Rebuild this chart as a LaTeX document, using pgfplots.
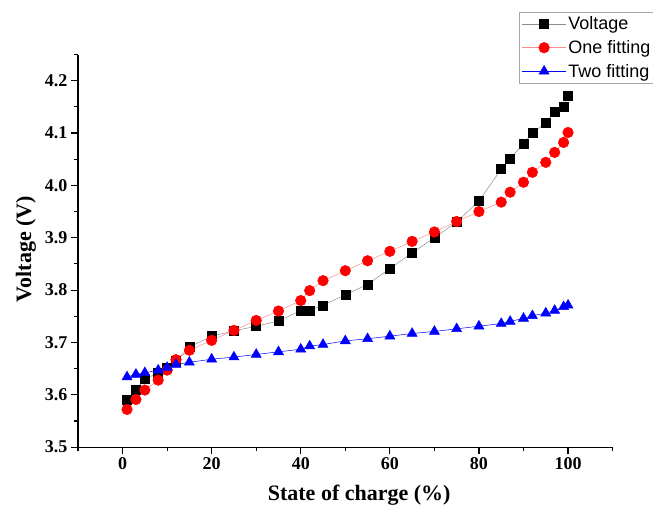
\documentclass[border=0pt]{standalone}
\usepackage{fontspec}
\setmainfont{Liberation Serif}
\newfontfamily\legfont{Liberation Sans}
\usepackage{pgfplots}
\pgfplotsset{compat=1.18}
\begin{document}
\begin{tikzpicture}
\begin{axis}[
    name=ax,
    scale only axis,
    width=534.4bp,
    height=392.5bp,
    xmin=-10, xmax=110,
    ymin=3.5, ymax=4.25,
    axis lines*=left,
    axis line style={line width=1.2bp, black},
    xtick={0,20,40,60,80,100},
    minor xtick={-10,10,30,50,70,90,110},
    ytick={3.5,3.6,3.7,3.8,3.9,4.0,4.1,4.2},
    minor ytick={3.55,3.65,3.75,3.85,3.95,4.05,4.15,4.25},
    yticklabel style={/pgf/number format/.cd, fixed, fixed zerofill, precision=1},
    tick align=outside,
    major tick length=7bp,
    minor tick length=4bp,
    tick style={line width=1.1bp, black},
    /pgf/number format/assume math mode=true,
    tick label style={font=\bfseries\fontsize{18bp}{20bp}\selectfont},
    xlabel={State of charge (\%)},
    ylabel={Voltage (V)},
    label style={font=\bfseries\fontsize{22bp}{24bp}\selectfont},
    x label style={at={(axis description cs:0.526,0)}, anchor=base, yshift=-53bp},
    y label style={at={(axis description cs:-0.0973,0.504)}, anchor=center},
    legend style={at={(rel axis cs:0.825,1.108)}, anchor=north west,
        draw=gray!70, line width=0.6bp,
        font=\legfont\fontsize{18bp}{20bp}\selectfont,
        row sep=5bp, inner sep=2.5bp},
    legend cell align=left,
    legend image code/.code={
        \draw[#1, mark repeat=2, mark phase=2] plot coordinates {(0bp,0bp) (22bp,0bp) (44bp,0bp)};
    },
]
\addplot[color=black!45, line width=0.5bp, mark=square*,
    mark options={black, fill=black, solid}, mark size=4.5bp] coordinates {
(1,3.590)(3,3.610)(5,3.630)(8,3.642)(10,3.651)(12,3.665)(15,3.691)(20,3.712)
(25,3.722)(30,3.731)(35,3.741)(40,3.761)(42,3.761)(45,3.771)(50,3.791)(55,3.811)
(60,3.841)(65,3.871)(70,3.900)(75,3.930)(80,3.970)(85,4.031)(87,4.051)(90,4.080)
(92,4.100)(95,4.120)(97,4.141)(99,4.150)(100,4.171)};
\addlegendentry{Voltage}
\addplot[color=red!45, line width=0.5bp, mark=*,
    mark options={red, fill=red, solid}, mark size=5.3bp] coordinates {
(1,3.572)(3,3.591)(5,3.609)(8,3.628)(10,3.647)(12,3.667)(15,3.685)(20,3.704)
(25,3.723)(30,3.742)(35,3.760)(40,3.780)(42,3.799)(45,3.818)(50,3.837)(55,3.856)
(60,3.874)(65,3.893)(70,3.911)(75,3.931)(80,3.950)(85,3.968)(87,3.987)(90,4.006)
(92,4.025)(95,4.044)(97,4.063)(99,4.082)(100,4.101)};
\addlegendentry{One fitting}
\addplot[color=blue, line width=0.5bp, mark=triangle*,
    mark options={blue, fill=blue, solid}, mark size=5.8bp] coordinates {
(1,3.634)(3,3.639)(5,3.642)(8,3.647)(10,3.652)(12,3.658)(15,3.662)(20,3.668)
(25,3.672)(30,3.677)(35,3.682)(40,3.687)(42,3.693)(45,3.696)(50,3.703)(55,3.707)
(60,3.712)(65,3.717)(70,3.721)(75,3.726)(80,3.731)(85,3.736)(87,3.740)(90,3.746)
(92,3.751)(95,3.756)(97,3.761)(99,3.768)(100,3.771)};
\addlegendentry{Two fitting}
\end{axis}
\pgfresetboundingbox
\path[use as bounding box] ([shift={(-78bp,-61bp)}]ax.south west)
    rectangle ([shift={(40.4bp,54.5bp)}]ax.north east);
\end{tikzpicture}
\end{document}
